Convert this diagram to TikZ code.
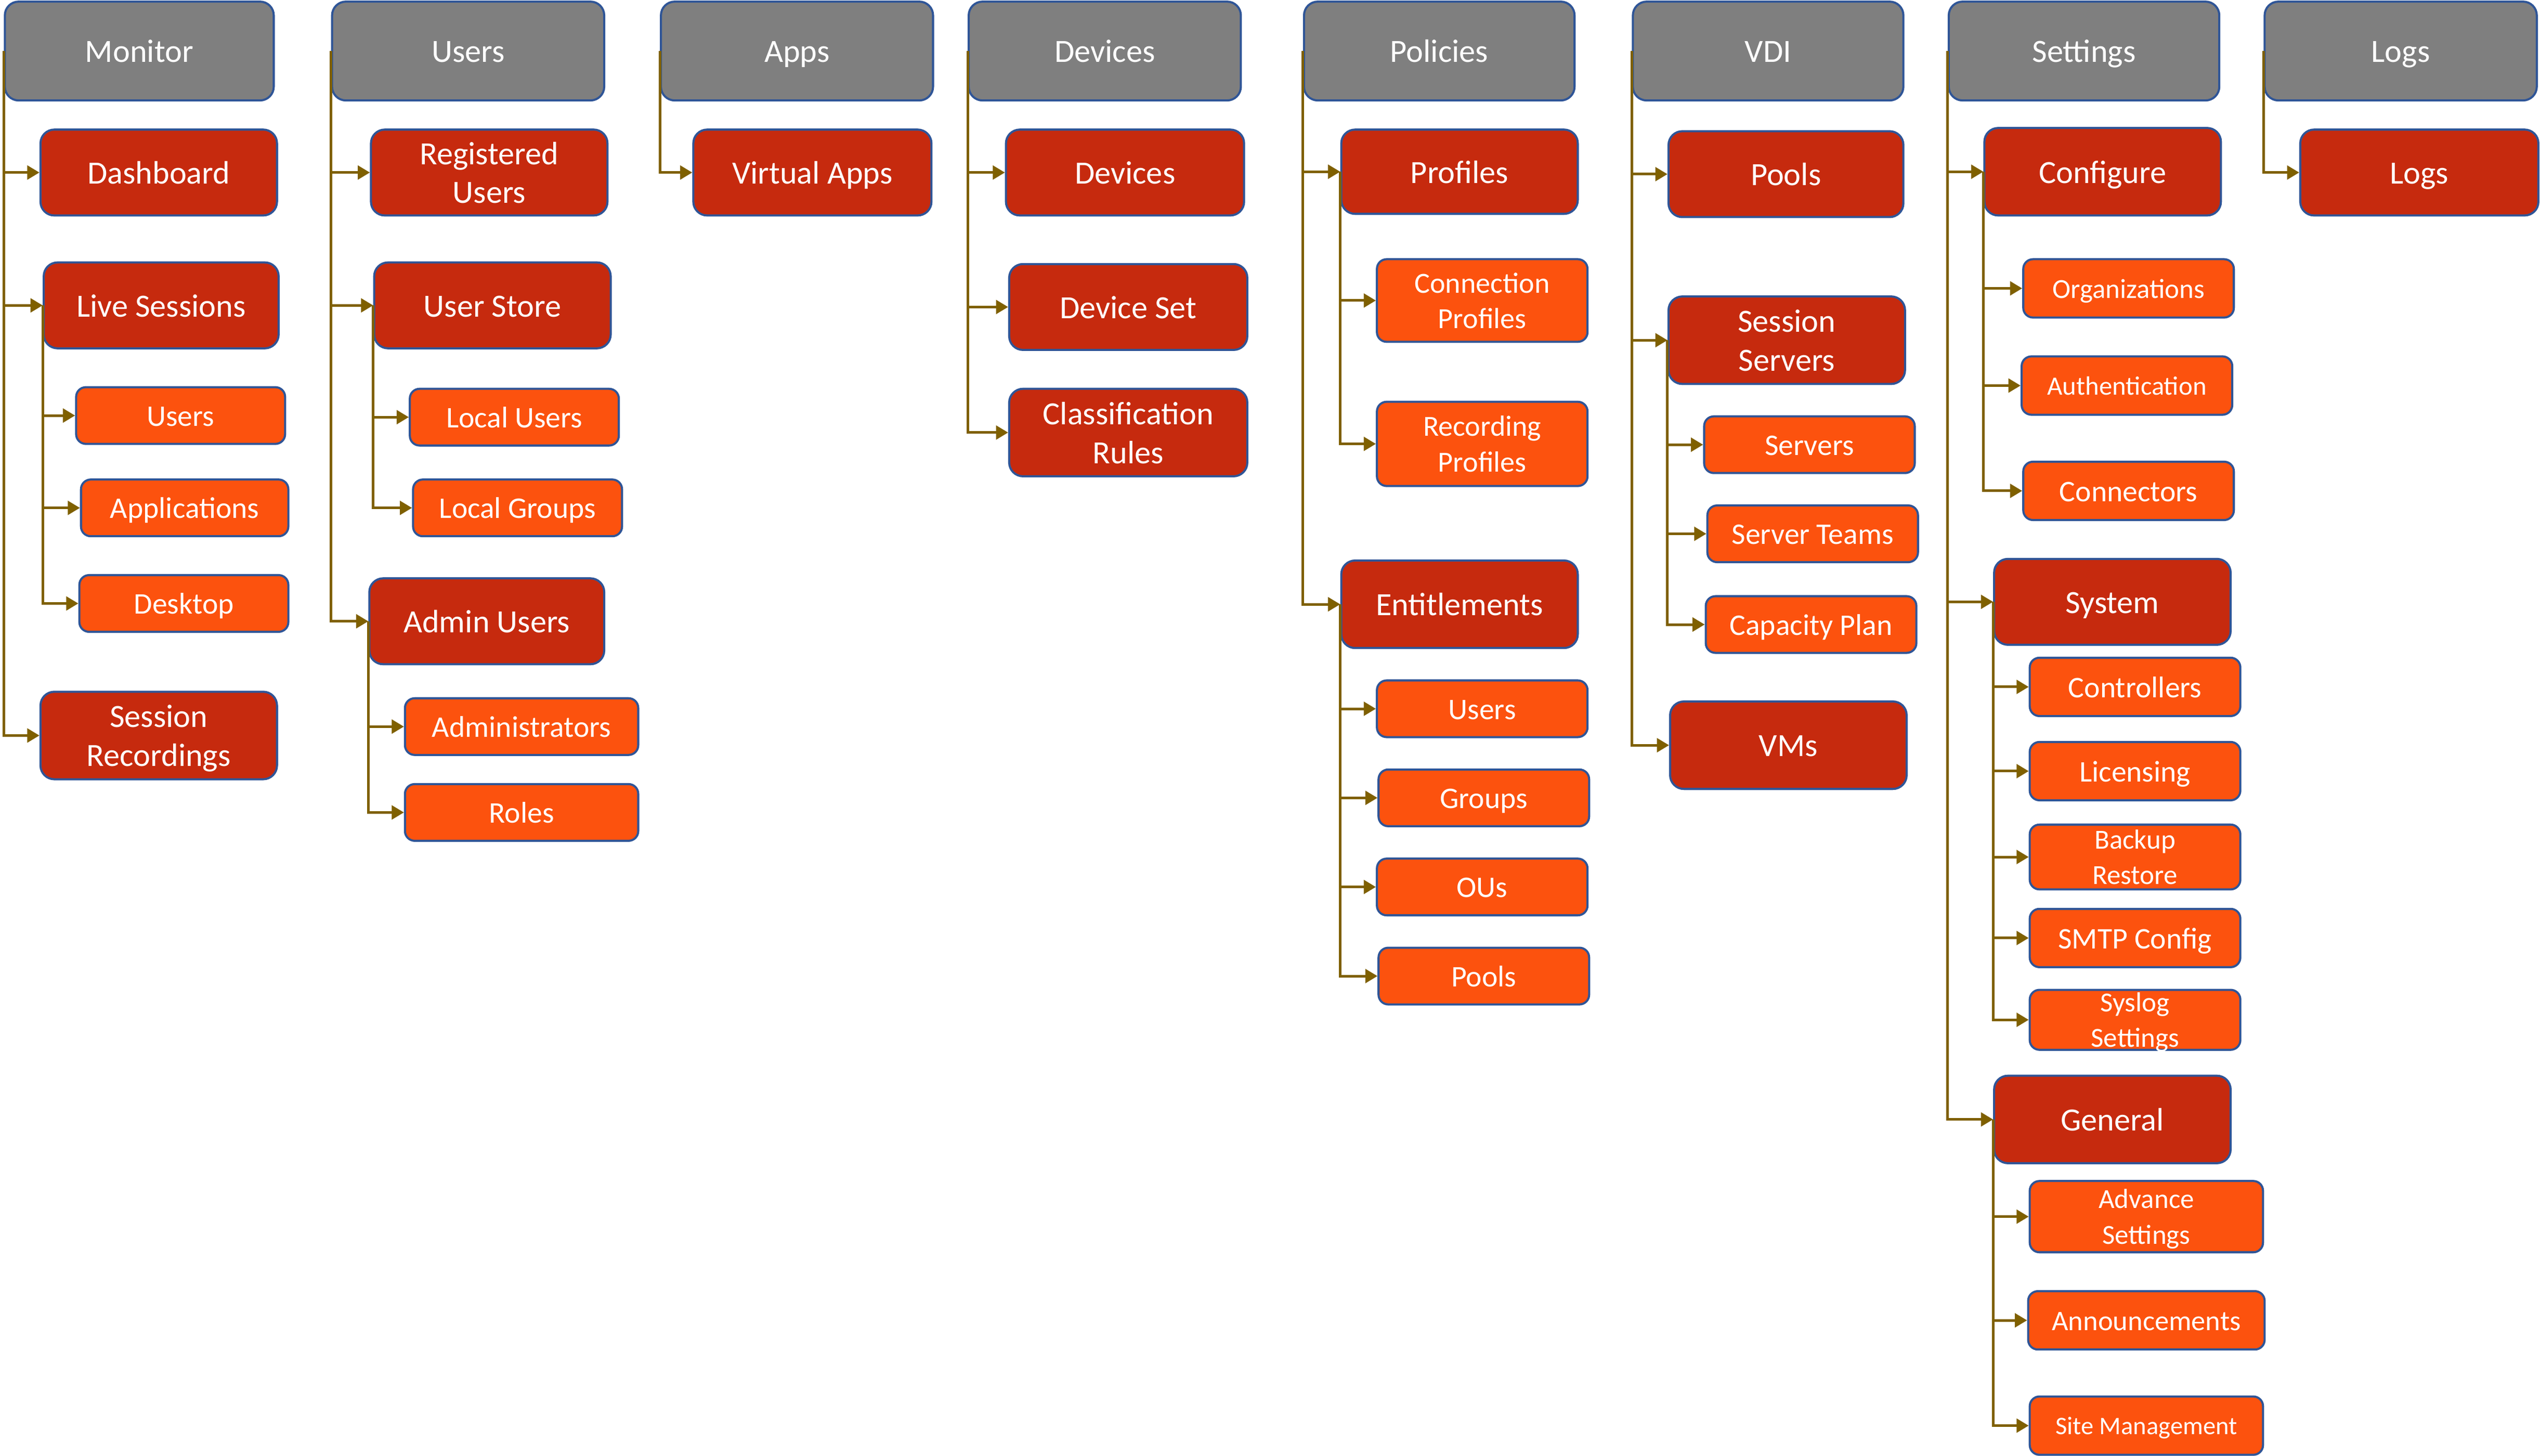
\documentclass[tikz,border=0pt]{standalone}
\usepackage{fontspec}
\setmainfont{Carlito}
\usetikzlibrary{arrows.meta}
\definecolor{hdrgray}{HTML}{7F7F7F}
\definecolor{boxred}{HTML}{C62A0E}
\definecolor{boxorange}{HTML}{FC520E}
\definecolor{boxblue}{HTML}{2F5597}
\definecolor{connbrown}{HTML}{7F6000}
\tikzset{
  base/.style={draw=boxblue, line width=1.3pt, text=white, align=center, inner sep=0pt},
  hdr/.style={base, fill=hdrgray, rounded corners=8.5pt, font=\fontsize{20}{24}\selectfont, text height=16pt, text depth=2pt},
  lvlone/.style={base, fill=boxred, rounded corners=8.5pt, font=\fontsize{20}{24}\selectfont, text height=16pt, text depth=2pt},
  lvltwo/.style={base, fill=boxorange, rounded corners=6pt, font=\fontsize{18.5}{22}\selectfont, text height=14.8pt, text depth=1.85pt},
  fsa/.style={font=\fontsize{17}{22}\selectfont, text height=13.6pt, text depth=1.7pt},
  fsb/.style={font=\fontsize{16.3}{20}\selectfont, text height=13.04pt, text depth=1.63pt},
  fsc/.style={font=\fontsize{15.6}{20}\selectfont, text height=12.48pt, text depth=1.56pt},
  fsd/.style={font=\fontsize{17.5}{21}\selectfont, text height=14pt, text depth=1.75pt},
  fse/.style={font=\fontsize{18}{22}\selectfont},
  mlA/.style={text height=38pt, text depth=0pt},
  mlB/.style={text height=34.6pt, text depth=0pt},
  mlC/.style={text height=33.9pt, text depth=0pt},
  conn/.style={draw=connbrown, line width=1.6pt, -{Triangle[length=7.5pt,width=8.5pt]}},
}
\newcommand{\bx}[7]{\node[#1, minimum width={#5pt-#3pt}, minimum height={#6pt-#4pt}] (#2) at ({(#3+#5)/2},{(#4+#6)/2}) {#7};}
\begin{document}
\begin{tikzpicture}[x=1pt,y=-1pt]
\useasboundingbox (0,0) rectangle (1568,898.7);
% Monitor
\bx{hdr}{mon}{3}{1}{169}{62}{Monitor}
\bx{lvlone}{dash}{25}{80}{171}{133}{Dashboard}
\bx{lvlone}{live}{27}{162}{172}{215}{Live Sessions}
\bx{lvltwo}{lusers}{47}{239}{176}{274}{Users}
\bx{lvltwo}{lapps}{50}{296}{178}{331}{Applications}
\bx{lvltwo}{ldesk}{49}{355}{178}{390}{Desktop}
\bx{lvlone,mlA}{srec}{25}{427}{171}{481}{Session\\Recordings}
% Users
\bx{hdr}{usr}{205}{1}{373}{62}{Users}
\bx{lvlone,mlA}{reg}{229}{80}{375}{133}{Registered\\Users}
\bx{lvlone}{ustore}{231}{162}{377}{215}{User Store}
\bx{lvltwo}{locu}{253}{240}{382}{275}{Local Users}
\bx{lvltwo}{locg}{255}{296}{384}{331}{Local Groups}
\bx{lvlone}{adm}{228}{357}{373}{410}{Admin Users}
\bx{lvltwo}{admins}{250}{431}{394}{466}{Administrators}
\bx{lvltwo}{roles}{250}{484}{394}{519}{Roles}
% Apps
\bx{hdr}{apps}{408}{1}{576}{62}{Apps}
\bx{lvlone}{vapps}{428}{80}{575}{133}{Virtual Apps}
% Devices
\bx{hdr}{dev}{598}{1}{766}{62}{Devices}
\bx{lvlone}{devs}{621}{80}{768}{133}{Devices}
\bx{lvlone}{dset}{623}{163}{770}{216}{Device Set}
\bx{lvlone,mlA}{crules}{623}{240}{770}{294}{Classification\\Rules}
% Policies
\bx{hdr}{pol}{805}{1}{972}{62}{Policies}
\bx{lvlone}{prof}{828}{80}{974}{132}{Profiles}
\bx{lvltwo,fse,mlB}{cprof}{850}{160}{980}{211}{Connection\\Profiles}
\bx{lvltwo,fse,mlB}{rprof}{850}{248}{980}{300}{Recording\\Profiles}
\bx{lvlone}{ent}{828}{346}{974}{400}{Entitlements}
\bx{lvltwo}{eusers}{850}{420}{980}{455}{Users}
\bx{lvltwo}{egroups}{851}{475}{981}{510}{Groups}
\bx{lvltwo}{eous}{850}{530}{980}{565}{OUs}
\bx{lvltwo}{epools}{851}{585}{981}{620}{Pools}
% VDI
\bx{hdr}{vdi}{1008}{1}{1175}{62}{VDI}
\bx{lvlone}{vpools}{1030}{81}{1175}{134}{Pools}
\bx{lvlone,mlA}{ssrv}{1030}{183}{1176}{237}{Session\\Servers}
\bx{lvltwo}{srv}{1052}{257}{1182}{292}{Servers}
\bx{lvltwo}{steams}{1054}{312}{1184}{347}{Server Teams}
\bx{lvltwo}{cplan}{1053}{368}{1183}{403}{Capacity Plan}
\bx{lvlone}{vms}{1031}{433}{1177}{487}{VMs}
% Settings
\bx{hdr}{sett}{1203}{1}{1370}{62}{Settings}
\bx{lvlone}{conf}{1225}{79}{1371}{133}{Configure}
\bx{lvltwo,fsa}{org}{1249}{160}{1379}{196}{Organizations}
\bx{lvltwo,fsb}{auth}{1248}{220}{1378}{256}{Authentication}
\bx{lvltwo}{cnct}{1249}{285}{1379}{321}{Connectors}
\bx{lvlone}{sys}{1231}{345}{1377}{398}{System}
\bx{lvltwo}{ctrl}{1253}{406}{1383}{442}{Controllers}
\bx{lvltwo}{lic}{1253}{458}{1383}{494}{Licensing}
\bx{lvltwo,fsa,mlC}{bkp}{1253}{509}{1383}{549}{Backup\\Restore}
\bx{lvltwo}{smtp}{1253}{561}{1383}{597}{SMTP Config}
\bx{lvltwo,fsa,mlC}{syslog}{1253}{611}{1383}{648}{Syslog\\Settings}
\bx{lvlone}{gen}{1231}{664}{1377}{718}{General}
\bx{lvltwo,fsa,mlC}{adv}{1253}{729}{1397}{773}{Advance\\Settings}
\bx{lvltwo,fsd}{ann}{1252}{797}{1398}{833}{Announcements}
\bx{lvltwo,fsc}{site}{1253}{862}{1397}{898}{Site Management}
% Logs
\bx{hdr}{logh}{1398}{1}{1566}{62}{Logs}
\bx{lvlone}{logs}{1420}{80}{1567}{133}{Logs}
% connectors
\foreach \p/\c in {mon/dash, mon/live, mon/srec, live/lusers, live/lapps, live/ldesk,
  usr/reg, usr/ustore, usr/adm, ustore/locu, ustore/locg, adm/admins, adm/roles,
  apps/vapps, dev/devs, dev/dset, dev/crules,
  pol/prof, pol/ent, prof/cprof, prof/rprof, ent/eusers, ent/egroups, ent/eous, ent/epools,
  vdi/vpools, vdi/ssrv, vdi/vms, ssrv/srv, ssrv/steams, ssrv/cplan,
  sett/conf, sett/sys, sett/gen, conf/org, conf/auth, conf/cnct,
  sys/ctrl, sys/lic, sys/bkp, sys/smtp, sys/syslog, gen/adv, gen/ann, gen/site,
  logh/logs}
  \draw[conn] (\p.west) |- (\c.west);
\end{tikzpicture}
\end{document}
